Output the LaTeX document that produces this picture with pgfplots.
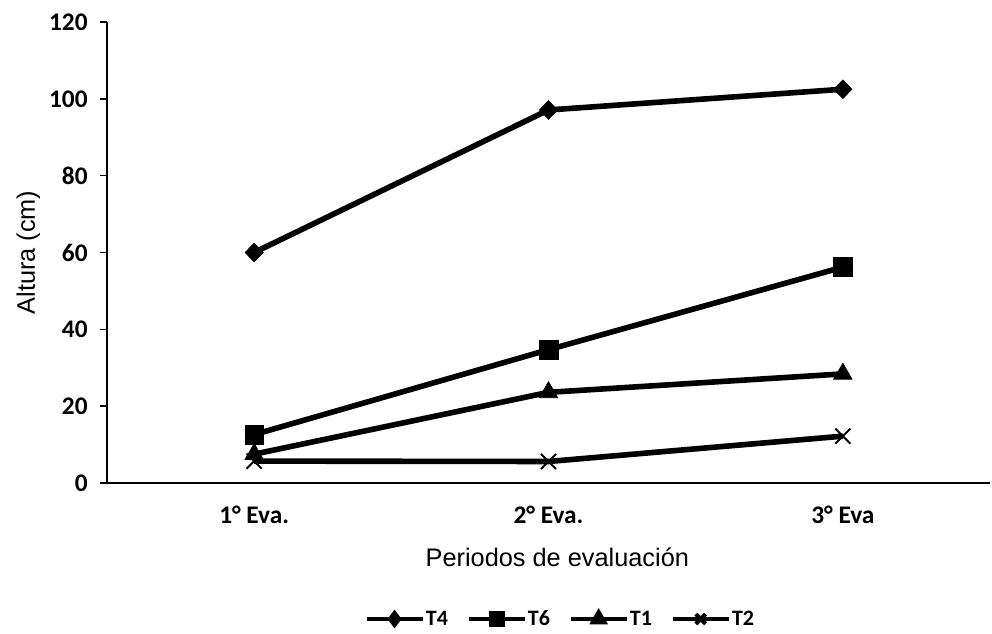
\documentclass[border=0pt]{standalone}
\usepackage{pgfplots}
\pgfplotsset{compat=1.18}
\usepackage{fontspec}
\setmainfont{Carlito}
\newfontfamily\arialfont{Liberation Sans}

\begin{document}
\begin{tikzpicture}
\path[use as bounding box] (0,0) rectangle (744pt,474.75pt);
\begin{axis}[
  at={(80.25pt,112.5pt)}, anchor=south west,
  scale only axis, width=662.25pt, height=345.75pt,
  xmin=0.5, xmax=3.5, ymin=0, ymax=120,
  axis lines=left, axis line style={-, line width=1.4pt},
  xtick={1,2,3},
  xticklabels={1° Eva., 2° Eva., 3° Eva},
  x tick label style={font=\fontsize{19}{21}\selectfont\bfseries, yshift=-9pt},
  major x tick style={draw=none},
  extra x ticks={1.5,2.5,3.5},
  extra x tick labels={},
  extra x tick style={tick align=outside, major tick length=5pt, tick style={line width=1.2pt, black}},
  ytick={0,20,...,120},
  y tick label style={font=\fontsize{19}{21}\selectfont\bfseries, xshift=-6pt},
  major y tick style={line width=1.2pt, black},
  tick align=outside, major tick length=5pt,
  /pgf/number format/assume math mode=true,
  xlabel={Periodos de evaluación},
  xlabel style={font=\arialfont\fontsize{19}{21}\selectfont, at={(axis description cs:0.51,0)}, anchor=center, yshift=-56pt},
  ylabel={Altura (cm)},
  ylabel style={font=\arialfont\fontsize{19}{21}\selectfont, at={(axis description cs:-0.089,0.5)}, anchor=center},
  every axis plot/.append style={line width=4.2pt, black},
  legend columns=4,
  legend style={at={(axis description cs:0.513,-0.295)}, anchor=center, draw=none,
    font=\fontsize{16.5}{18}\selectfont\bfseries,
    inner xsep=0pt,
    nodes={inner xsep=1pt},
    /tikz/every odd column/.append style={column sep=0pt},
    /tikz/every even column/.append style={column sep=13pt}},
  legend image code/.code={
    \draw[#1, line width=3pt, mark repeat=2, mark phase=2, mark options={scale=0.65}]
      plot coordinates {(0pt,0pt) (21pt,0pt) (42pt,0pt)};
  },
]
\addplot[mark=diamond*, mark size=7pt, mark options={solid, line width=0.5pt, xscale=1.3}]
  coordinates {(1,60.0) (2,97.1) (3,102.5)};
\addlegendentry{T4}
\addplot[mark=square*, mark size=7pt, mark options={solid, line width=0.5pt}]
  coordinates {(1,12.6) (2,34.7) (3,56.2)};
\addlegendentry{T6}
\addplot[mark=triangle*, mark size=8pt, mark options={solid, line width=0.5pt}]
  coordinates {(1,7.5) (2,23.6) (3,28.4)};
\addlegendentry{T1}
\addplot[mark=x, mark size=8pt, mark options={solid, line width=1.4pt}]
  coordinates {(1,5.7) (2,5.6) (3,12.2)};
\addlegendentry{T2}
\end{axis}
\end{tikzpicture}
\end{document}
